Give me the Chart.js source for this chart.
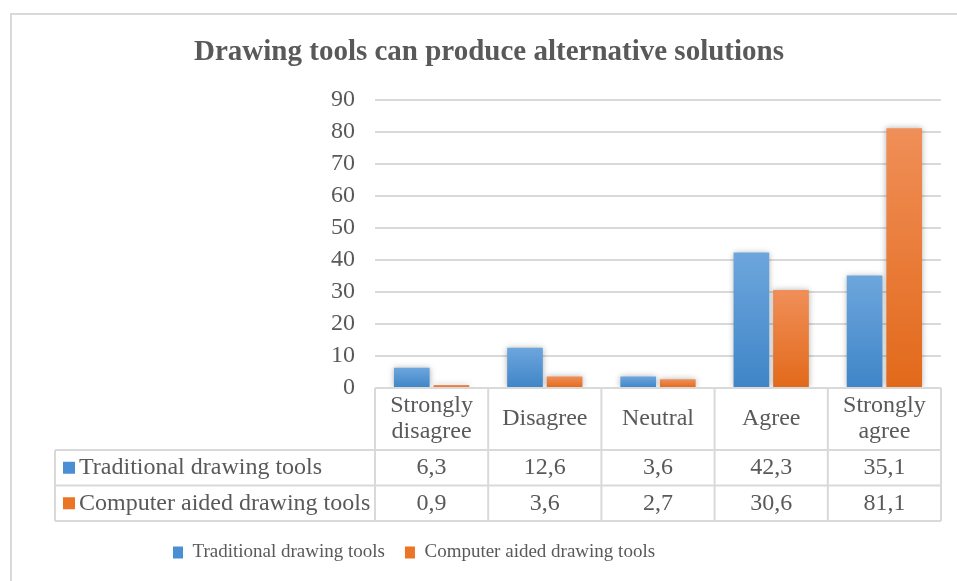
<!DOCTYPE html>
<html>
<head>
<meta charset="utf-8">
<script src="https://cdn.jsdelivr.net/npm/chart.js@4/dist/chart.umd.min.js"></script>
<style>
  html, body { margin: 0; padding: 0; background: #fff; }
  #wrap { position: relative; width: 957px; height: 581px; overflow: hidden; }
  #frame { position: absolute; left: 10px; top: 13px; width: 960px; height: 600px;
           border-left: 2px solid #d9d9d9; border-top: 2px solid #d9d9d9; }
  canvas { position: absolute; left: 0; top: 0; }
</style>
</head>
<body>
<div id="wrap">
  <div id="frame"></div>
  <canvas id="chart" width="957" height="581"></canvas>
</div>
<script>
const categories = [['Strongly', 'disagree'], 'Disagree', 'Neutral', 'Agree', ['Strongly', 'agree']];
const traditional = [6.3, 12.6, 3.6, 42.3, 35.1];
const computerAided = [0.9, 3.6, 2.7, 30.6, 81.1];
const yTicks = [0, 10, 20, 30, 40, 50, 60, 70, 80, 90];

const FONT = '"Liberation Serif", "Times New Roman", serif';
const TEXT = '#595959';
const LINE = '#d9d9d9';
const BLUE = '#4a8fd3';
const ORANGE = '#ec7426';

// градиент на каждый столбик: светлее сверху
function barFill(top, bottom) {
  return (context) => {
    const chart = context.chart;
    const y = chart.scales.y;
    if (!chart.chartArea || !y || context.raw == null) return bottom;
    const g = chart.ctx.createLinearGradient(0, y.getPixelForValue(context.raw), 0, y.getPixelForValue(0));
    g.addColorStop(0, top);
    g.addColorStop(1, bottom);
    return g;
  };
}

// тень под столбиками
const barShadow = {
  id: 'barShadow',
  beforeDatasetsDraw(chart) {
    const ctx = chart.ctx;
    ctx.save();
    ctx.shadowColor = 'rgba(0,0,0,0.3)';
    ctx.shadowBlur = 6;
  },
  afterDatasetsDraw(chart) {
    chart.ctx.restore();
  }
};

// заголовок центрируем по всей рамке, а не по области с отступом
const titleCenter = {
  id: 'titleCenter',
  afterLayout(chart) {
    if (chart.titleBlock) chart.titleBlock.left = 37;
  }
};

// таблица данных под осью
const dataTable = {
  id: 'dataTable',
  afterDraw(chart) {
    const ctx = chart.ctx;
    const x = chart.scales.x;
    const area = chart.chartArea;
    const n = categories.length;
    const colW = (area.right - area.left) / n;
    const top = area.bottom;
    const rowLabelH = 62, rowH = 35.5;
    const r1 = top + rowLabelH, r2 = r1 + rowH, r3 = r2 + rowH;
    const tableLeft = 55;

    ctx.save();
    ctx.strokeStyle = LINE;
    ctx.lineWidth = 2;
    ctx.beginPath();
    ctx.moveTo(area.left, top); ctx.lineTo(area.right, top);
    [r1, r2, r3].forEach(yy => { ctx.moveTo(tableLeft, yy); ctx.lineTo(area.right, yy); });
    for (let i = 0; i <= n; i++) {
      const xx = area.left + i * colW;
      ctx.moveTo(xx, top); ctx.lineTo(xx, r3);
    }
    ctx.moveTo(tableLeft, r1); ctx.lineTo(tableLeft, r3);
    ctx.stroke();

    ctx.fillStyle = TEXT;
    ctx.font = '24px ' + FONT;
    ctx.textAlign = 'center';
    ctx.textBaseline = 'middle';
    categories.forEach((c, i) => {
      const cx = x.getPixelForValue(i);
      const lines = Array.isArray(c) ? c : [c];
      const mid = top + rowLabelH / 2;
      lines.forEach((l, k) => {
        ctx.fillText(l, cx, mid + (k - (lines.length - 1) / 2) * 26);
      });
      ctx.fillText(String(traditional[i]).replace('.', ','), cx, r1 + rowH / 2);
      ctx.fillText(String(computerAided[i]).replace('.', ','), cx, r2 + rowH / 2);
    });

    const rows = [
      { label: 'Traditional drawing tools', color: BLUE, y: r1 + rowH / 2 },
      { label: 'Computer aided drawing tools', color: ORANGE, y: r2 + rowH / 2 }
    ];
    ctx.textAlign = 'left';
    rows.forEach(r => {
      ctx.fillStyle = r.color;
      ctx.fillRect(63, r.y - 6, 12, 12);
      ctx.fillStyle = TEXT;
      ctx.fillText(r.label, 79, r.y);
    });
    ctx.restore();
  }
};

new Chart(document.getElementById('chart'), {
  type: 'bar',
  data: {
    labels: categories,
    datasets: [
      {
        label: 'Traditional drawing tools',
        data: traditional,
        backgroundColor: barFill('#6da6dd', '#3f85c7'),
        borderWidth: 0
      },
      {
        label: 'Computer aided drawing tools',
        data: computerAided,
        backgroundColor: barFill('#f08f58', '#e2691a'),
        borderWidth: 0
      }
    ]
  },
  options: {
    responsive: false,
    animation: false,
    devicePixelRatio: 1,
    layout: { padding: { left: 153, right: 16, top: 35, bottom: 9 } },
    datasets: { bar: { categoryPercentage: 0.7, barPercentage: 0.9 } },
    plugins: {
      title: {
        display: true,
        text: 'Drawing tools can produce alternative solutions',
        color: TEXT,
        font: { family: FONT, size: 29, weight: 'bold' },
        padding: { top: 0, bottom: 30 }
      },
      legend: {
        position: 'bottom',
        align: 'start',
        labels: {
          color: TEXT,
          font: { family: FONT, size: 19 },
          boxWidth: 10,
          boxHeight: 12,
          padding: 20,
          generateLabels(chart) {
            const colors = [BLUE, ORANGE];
            return chart.data.datasets.map((d, i) => ({
              text: d.label,
              fillStyle: colors[i],
              strokeStyle: colors[i],
              lineWidth: 0,
              fontColor: TEXT,
              datasetIndex: i,
              hidden: false
            }));
          }
        }
      },
      tooltip: { enabled: false }
    },
    scales: {
      x: {
        grid: { display: false },
        border: { display: false },
        ticks: { display: false },
        afterFit(scale) { scale.height = 135; }
      },
      y: {
        min: 0,
        max: 90,
        afterBuildTicks(scale) { scale.ticks = yTicks.map(v => ({ value: v })); },
        afterFit(scale) { scale.width = 222; },
        grid: { color: LINE, lineWidth: 2, drawTicks: false },
        border: { display: false },
        ticks: {
          color: TEXT,
          padding: 20,
          font: { family: FONT, size: 24 }
        }
      }
    }
  },
  plugins: [barShadow, titleCenter, dataTable]
});
</script>
</body>
</html>
